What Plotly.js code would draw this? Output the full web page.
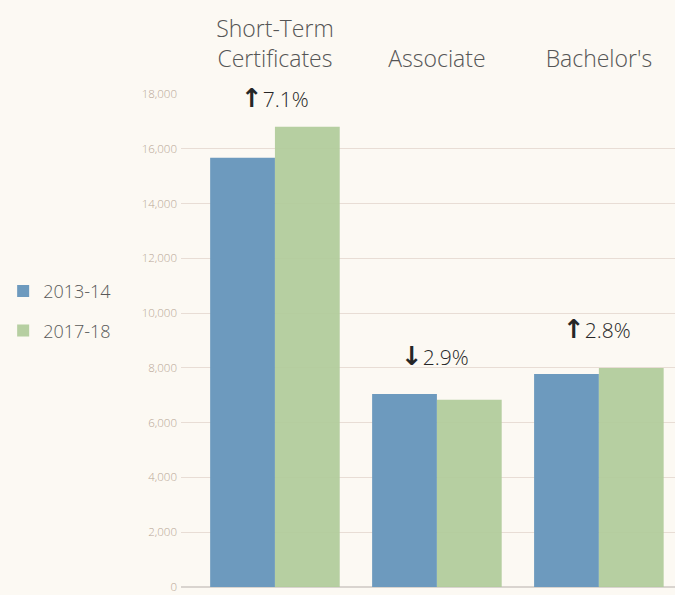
<!DOCTYPE html>
<html><head><meta charset="utf-8">
<script src="https://cdn.plot.ly/plotly-3.0.1.min.js"></script>
<style>html,body{margin:0;padding:0;background:#fcf9f3;}</style>
</head><body>
<div id="chart" style="width:675px;height:595px;"></div>
<script>
const categories = ["Short-Term<br>Certificates", "Associate", "Bachelor's"];
const series2013 = [15670, 7050, 7780];
const series2017 = [16800, 6840, 8000];
const seriesNames = ["2013-14", "2017-18"];
const changeArrows = ["↑", "↓", "↑"];
const changeLabels = ["7.1%", "2.9%", "2.8%"];
const labelY = [17850, 8440, 9420];
const labelX = [0.0, 0.99, 1.99];
const yTicks = [0, 2000, 4000, 6000, 8000, 10000, 12000, 14000, 16000, 18000];

const FONT = '"Open Sans", sans-serif';
const idx = [0, 1, 2];
const traces = [
  {type: 'bar', x: idx, y: series2013, name: seriesNames[0], legendgroup: 'a',
   marker: {color: '#6d9abe'}},
  {type: 'bar', x: idx, y: series2017, name: seriesNames[1], legendgroup: 'b',
   marker: {color: 'rgba(176,203,154,0.92)'}}
];

const annotations = changeLabels.map((t, i) => ({
  x: labelX[i], y: labelY[i], xref: 'x', yref: 'y',
  text: '<span style="font-family:DejaVu Sans;font-weight:bold;font-size:26px">' + changeArrows[i] + '</span>' + t,
  showarrow: false,
  font: {family: FONT, size: 21, color: '#262626', weight: 300}
}));

const layout = {
  width: 675, height: 595,
  paper_bgcolor: '#fcf9f3', plot_bgcolor: '#fcf9f3',
  margin: {l: 181, r: 0, t: 94, b: 8},
  barmode: 'group', bargap: 0.2, bargroupgap: 0,
  font: {family: FONT},
  xaxis: {
    side: 'top', range: [-0.58, 2.47], tickmode: 'array', tickvals: idx, ticktext: categories,
    showgrid: false, zeroline: false, showline: false, ticks: '',
    ticklabelstandoff: 21,
    tickfont: {family: FONT, size: 23, color: '#555555', weight: 300}
  },
  yaxis: {
    range: [0, 18000], tickvals: yTicks, tickformat: ',d',
    showgrid: true, gridcolor: '#e8ddd5', gridwidth: 1,
    zeroline: true, zerolinecolor: '#d9d4cf', zerolinewidth: 2,
    showline: false, ticks: '', ticklabelstandoff: 3, ticklabeloverflow: 'allow',
    tickfont: {family: FONT, size: 11.5, color: '#b8a696', weight: 300}
  },
  legend: {
    x: -0.36, xanchor: 'left', y: 0.56, yanchor: 'middle',
    bgcolor: 'rgba(0,0,0,0)', tracegroupgap: 13, traceorder: 'grouped',
    font: {family: FONT, size: 18, color: '#595959', weight: 300}
  },
  annotations: annotations,
  showlegend: true
};

Plotly.newPlot('chart', traces, layout, {displayModeBar: false, staticPlot: true});
</script>
</body></html>
